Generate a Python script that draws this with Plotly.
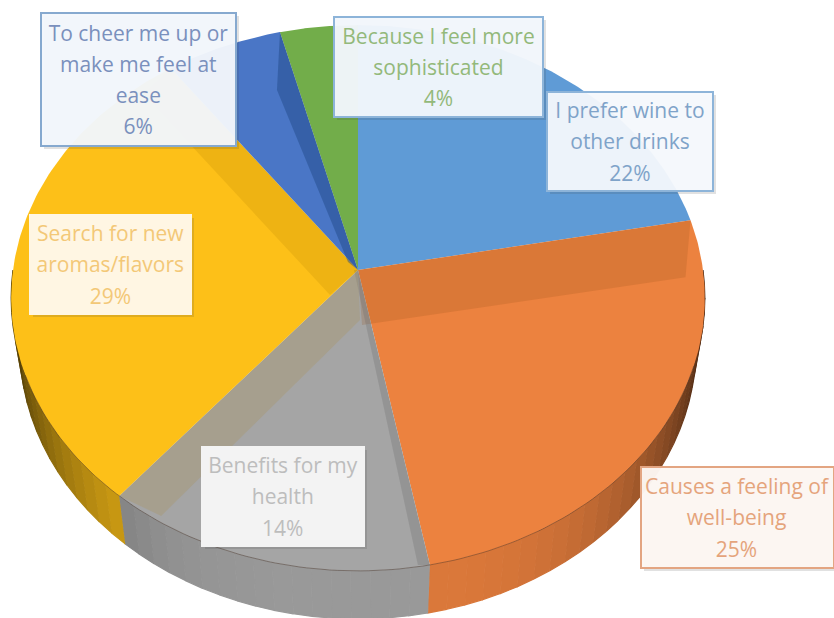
import numpy as np
import plotly.graph_objects as go

# ---- data (clockwise from 12 o'clock) ----
labels = ["I prefer wine to<br>other drinks", "Causes a feeling of<br>well-being",
          "Benefits for my<br>health", "Search for new<br>aromas/flavors",
          "To cheer me up or<br>make me feel at<br>ease", "Because I feel more<br>sophisticated"]
values = [22, 25, 14, 29, 6, 4]
colors = ["#5F9BD6", "#EC823F", "#A5A5A5", "#FDC018", "#4A76C6", "#72AD4A"]
text_colors = ["#7FA3C9", "#E5A47C", "#BDBDBD", "#F3C877", "#7A90BD", "#93B97A"]

# label boxes: x0, x1, y0, y1, border
boxes = [(547, 713, 92, 191, "#8DB4D9"), (641, 834, 467, 568, "#E3A582"),
         (202, 364, 447, 546, "#F3F3F3"), (30, 191, 215, 314, "#FFF6E3"),
         (41, 236, 13, 146, "#86A9CF"), (334, 543, 17, 117, "#8DB4D9")]
box_fill = ["rgba(245,249,253,0.95)", "rgba(253,247,243,0.97)", "#F3F3F3",
            "#FFF6E3", "rgba(243,247,252,0.96)", "rgba(243,247,252,0.96)"]

# ---- perspective disc ----
CX, CY, RX, A, B, DEPTH = 358, 270, 345, 270, 0.1026, 48


def rim(t):
    v = np.cos(t)
    d = 1 + B * v
    return CX + RX * np.sin(t) / d, CY - A * v / d


def side(t):
    x, y = rim(t)
    return CX + (x - CX) * 0.975, y + DEPTH


cum = np.concatenate([[0], np.cumsum(values)]) / sum(values) * 2 * np.pi
fig = go.Figure()


def poly(xs, ys, color, name=None, edge=0):
    fig.add_trace(go.Scatter(x=list(xs), y=list(ys), mode="lines", fill="toself",
                             fillcolor=color, line=dict(width=edge, color=color), hoverinfo="skip",
                             name=name, showlegend=False))


def shade(hex_color, f):
    r, g, b = (int(hex_color[i:i + 2], 16) for i in (1, 3, 5))
    return f"rgb({int(r * f)},{int(g * f)},{int(b * f)})"


# side wall
for i, c in enumerate(colors):
    a0, a1 = max(cum[i], np.pi / 2), min(cum[i + 1], 3 * np.pi / 2)
    if a1 <= a0:
        continue
    edges = np.linspace(a0, a1, int((a1 - a0) / np.radians(3)) + 2)
    for e0, e1 in zip(edges[:-1], edges[1:]):
        t = np.linspace(e0, e1, 3)
        rx, ry = rim(t)
        sx, sy = side(t[::-1])
        f = 0.93 - 0.62 * abs(np.sin((e0 + e1) / 2)) ** 3.5
        poly(np.r_[rx, sx], np.r_[ry, sy], shade(c, f), edge=1.2)

# top slices
for i, c in enumerate(colors):
    t = np.linspace(cum[i], cum[i + 1], 120)
    rx, ry = rim(t)
    poly(np.r_[CX, rx], np.r_[CY, ry], c, labels[i].replace("<br>", " "))

# translucent inner-edge bands: boundary index, rim offset, apex offset, colour
bands = [(1, (-5, 57), (4, 55), "rgba(150,80,25,0.20)"),
         (2, (-12, 0), (-4, 0), "rgba(90,90,90,0.22)"),
         (3, (42, 20), (2, 50), "rgba(170,150,100,0.35)"),
         (4, (-28, 25), (-28, 25), "rgba(170,120,0,0.18)"),
         (5, (-3, 58), (-10, -8), "rgba(30,70,130,0.45)")]
for k, rim_off, apex_off, col in bands:
    x, y = rim(cum[k])
    poly([CX, x, x + rim_off[0], CX + apex_off[0]],
         [CY, y, y + rim_off[1], CY + apex_off[1]], col)

# front rim line
t = np.linspace(np.radians(110), np.radians(248), 120)
rx, ry = rim(t)
fig.add_trace(go.Scatter(x=rx, y=ry, mode="lines", line=dict(width=1, color="rgba(70,50,40,0.45)"),
                         hoverinfo="skip", showlegend=False))

shapes, annotations = [], []
for (x0, x1, y0, y1, border), bg, label, val, tc in zip(boxes, box_fill, labels, values, text_colors):
    shapes.append(dict(type="rect", xref="x", yref="y", x0=x0 + 3, x1=x1 + 3, y0=y0 + 3, y1=y1 + 3,
                       fillcolor="rgba(70,70,70,0.16)", line=dict(width=0), layer="above"))
    annotations.append(dict(
        x=(x0 + x1) / 2, y=(y0 + y1) / 2, xref="x", yref="y", showarrow=False,
        text=f'<span style="font-size:21px">{label}<br>{val}%</span>',
        font=dict(family="Open Sans", size=24, color=tc), align="center", valign="middle",
        width=x1 - x0 - 2, height=y1 - y0 - 2, bgcolor=bg, bordercolor=border, borderwidth=2, borderpad=0))

fig.update_layout(
    width=834, height=618, margin=dict(l=0, r=0, t=0, b=0),
    paper_bgcolor="white", plot_bgcolor="white", showlegend=False,
    xaxis=dict(range=[0, 834], visible=False, fixedrange=True),
    yaxis=dict(range=[618, 0], visible=False, fixedrange=True),
    shapes=shapes, annotations=annotations)
fig.write_html("out.html", config=dict(displayModeBar=False),
               post_script="document.body.style.margin='0';document.body.style.overflow='hidden';")
